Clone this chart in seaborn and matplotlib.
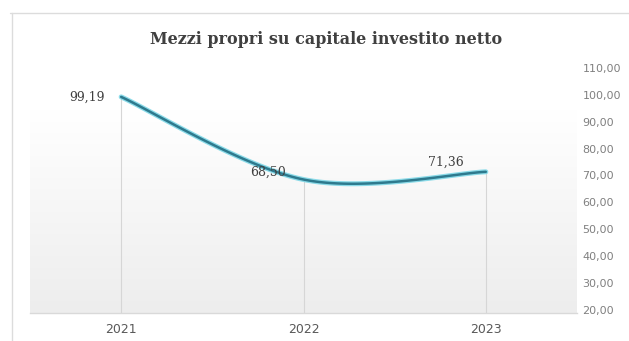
import numpy as np
import matplotlib
matplotlib.use("Agg")
import matplotlib.pyplot as plt
from matplotlib.colors import LinearSegmentedColormap
from matplotlib.lines import Line2D
import seaborn as sns

# Chart data
years = ["2021", "2022", "2023"]
values = [99.19, 68.50, 71.36]
value_labels = ["99,19", "68,50", "71,36"]
axis_ticks = [20, 30, 40, 50, 60, 70, 80, 90, 100, 110]

sns.set_theme(style="white")
plt.rcParams["font.family"] = ["DejaVu Sans"]

W, H = 629, 341
fig = plt.figure(figsize=(W / 100, H / 100), dpi=100)
fig.patch.set_facecolor("white")

# plot area in pixel coordinates
left, right, top, bottom = 30, 577, 60, 313
ax = fig.add_axes([left / W, 1 - bottom / H, (right - left) / W, (bottom - top) / H])
ymin, ymax = 18.9, 112.9
ax.set_facecolor("none")

# soft vertical gradient behind the plot: white at the top, light grey at the base
grad_cmap = LinearSegmentedColormap.from_list(
    "bg", [(0.0, "#ffffff"), (0.2, "#ffffff"), (1.0, "#ededed")])
grad = np.linspace(0, 1, 256).reshape(-1, 1)
ax.imshow(grad, extent=(-0.5, 2.5, ymin, ymax), origin="upper", aspect="auto",
          cmap=grad_cmap, zorder=0, interpolation="bicubic")
ax.set_xlim(-0.5, 2.5)
ax.set_ylim(ymin, ymax)

x = np.arange(len(values), dtype=float)
y = np.array(values, dtype=float)

# drop lines from each point to the baseline
ax.vlines(x, ymin, y, color="#d6d6d6", lw=0.8, zorder=1)


# smoothed line (cubic Bezier segments with tangents from neighbouring points)
def smooth_curve(px, py, n=60):
    pts = np.column_stack([px, py])
    out = []
    for i in range(len(pts) - 1):
        p0 = pts[i - 1] if i > 0 else pts[i]
        p1, p2 = pts[i], pts[i + 1]
        p3 = pts[i + 2] if i + 2 < len(pts) else pts[i + 1]
        c1 = p1 + (p2 - p0) / 6.0
        c2 = p2 - (p3 - p1) / 6.0
        t = np.linspace(0, 1, n)[:, None]
        seg = ((1 - t) ** 3) * p1 + 3 * ((1 - t) ** 2) * t * c1 + 3 * (1 - t) * t ** 2 * c2 + t ** 3 * p2
        out.append(seg if i == 0 else seg[1:])
    return np.vstack(out)


curve = smooth_curve(x, y)
sns.lineplot(x=curve[:, 0], y=curve[:, 1], sort=False, ax=ax, color="#6fd3e4",
             lw=3.6, alpha=0.8, zorder=3)
sns.lineplot(x=curve[:, 0], y=curve[:, 1], sort=False, ax=ax, color="#2e7a8e",
             lw=1.8, zorder=4)

# value labels
offsets = [(-16, 0, "right"), (-18, 7, "right"), (-40, 10, "center")]
for xi, yi, lab, (dx, dy, ha) in zip(x, y, value_labels, offsets):
    ax.annotate(lab, (xi, yi), xytext=(dx, dy), textcoords="offset pixels",
                ha=ha, va="center", fontsize=9, color="#404040",
                family="DejaVu Serif", zorder=5)

# category axis
ax.set_xticks(x)
ax.set_xticklabels(years)
ax.tick_params(axis="x", length=0, pad=7, labelsize=9, labelcolor="#595959")

# value axis on the right
ax.yaxis.tick_right()
ax.set_yticks(axis_ticks)
ax.set_yticklabels([f"{v:.2f}".replace(".", ",") for v in axis_ticks])
ax.tick_params(axis="y", length=0, pad=4, labelsize=8, labelcolor="#808080")

for s in ["top", "left", "right"]:
    ax.spines[s].set_visible(False)
ax.spines["bottom"].set_color("#d9d9d9")
ax.spines["bottom"].set_linewidth(1.0)
ax.grid(False)

# title
fig.text(326 / W, 1 - 40 / H, "Mezzi propri su capitale investito netto",
         ha="center", va="center", fontsize=11.5, fontweight="bold",
         color="#404040", family="DejaVu Serif")

# chart frame
fig.add_artist(Line2D([10 / W, 1.0], [1 - 13 / H, 1 - 13 / H], color="#dcdcdc", lw=1.0))
fig.add_artist(Line2D([12 / W, 12 / W], [0, 1 - 13 / H], color="#dcdcdc", lw=1.0))

fig.savefig("out.png", dpi=100, facecolor="white")
